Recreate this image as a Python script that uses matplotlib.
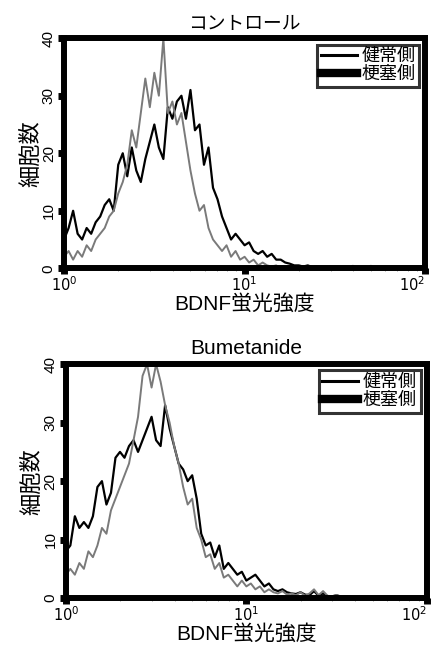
import numpy as np
import matplotlib.pyplot as plt
from matplotlib.lines import Line2D
from matplotlib.ticker import MultipleLocator, LogLocator, NullFormatter

plt.rcParams["font.family"] = ["Liberation Sans", "Noto Sans CJK JP", "DejaVu Sans"]

# flow cytometer channels: 40 bins per decade, starting at 10^0
bins_per_decade = 40

# control: healthy side (gray) and infarct side (black)
ctrl_healthy = [2, 3, 1.5, 3, 2, 4, 3, 5, 6, 7,
                9, 10, 13, 15, 18, 24, 21, 27, 33, 28,
                34, 30, 40, 27, 29, 25, 27, 22, 17, 13,
                10, 11, 7, 5, 4, 3, 4, 2, 3, 1.5,
                2, 1, 1.5, 0.5, 1, 0.5, 0.3, 0.5, 0, 0.2,
                0, 0, 0.2, 0, 0, 0, 0, 0, 0, 0]
ctrl_infarct = [5, 7, 10, 6, 5, 7, 6, 8, 9, 11,
                12, 10, 18, 20, 16, 21, 17, 15, 19, 22,
                25, 21, 19, 28, 26, 29, 30, 26, 31, 24,
                25, 18, 21, 14, 12, 9, 7, 5, 6, 5,
                4, 4.5, 3, 2.5, 3, 2, 2.5, 1.5, 1.5, 1,
                0.8, 0.5, 0.5, 0.3, 0.5, 0.2, 0.3, 0.2, 0, 0.3,
                0, 0.2, 0, 0, 0.4, 0, 0, 0, 0.4, 0,
                0]

# bumetanide: healthy side (gray) and infarct side (black)
bume_healthy = [4, 5, 4, 6, 5, 8, 7, 9, 12, 11,
                15, 17, 19, 21, 23, 27, 31, 38, 40, 36,
                40, 37, 33, 30, 26, 23, 19, 16, 17, 12,
                10, 7, 7.5, 5, 6, 3.5, 4, 3, 2, 3,
                2, 2.5, 1.5, 2, 1, 1.5, 1, 0.8, 1.2, 0.6,
                0.8, 0.5, 1, 0.4, 0.8, 1.5, 0.5, 1.2, 0.4, 0.3,
                0.5, 0.3, 0.2, 0.3, 0.2, 0, 0.2, 0, 0.2, 0]
bume_infarct = [8, 9, 14, 12, 13, 12, 14, 19, 20, 16,
                18, 24, 25, 24, 26, 27, 25, 27, 29, 31,
                27, 26, 33, 29, 26, 23, 22, 20, 21, 17,
                11, 9, 9.5, 7, 9, 5, 6, 5, 4, 4.5,
                3, 3.5, 4, 3, 2, 2.5, 1.5, 1.2, 1.5, 1,
                0.8, 0.7, 1, 0.6, 0.5, 1.2, 0.4, 0.8, 0.3, 0.3,
                0.5, 0.2, 0.3, 0.2, 0, 0.2, 0.2, 0, 0.2, 0]

x_ticks = [1, 10, 100]
x_tick_labels = ["$10^0$", "$10^1$", "$10^2$"]

panels = [
    ("コントロール", 13.5, ctrl_healthy, ctrl_infarct, [0.147, 0.586, 0.828, 0.355]),
    ("Bumetanide", 15, bume_healthy, bume_infarct, [0.151, 0.077, 0.828, 0.361]),
]

fig = plt.figure(figsize=(4.36, 6.48), dpi=100)

for title, title_size, healthy, infarct, rect in panels:
    ax = fig.add_axes(rect)
    x_h = 10 ** (np.arange(len(healthy)) / bins_per_decade)
    x_i = 10 ** (np.arange(len(infarct)) / bins_per_decade)
    ax.plot(x_i, infarct, color="black", lw=1.6)
    ax.plot(x_h, healthy, color="#7a7a7a", lw=1.4)

    ax.set_xscale("log")
    ax.set_xlim(1, 100)
    ax.set_ylim(0, 40)
    ax.yaxis.set_major_locator(MultipleLocator(10))
    ax.yaxis.set_minor_locator(MultipleLocator(2))
    ax.set_xticks(x_ticks)
    ax.set_xticklabels(x_tick_labels)
    ax.xaxis.set_minor_locator(LogLocator(base=10, subs=np.arange(2, 10)))
    ax.xaxis.set_minor_formatter(NullFormatter())

    for s in ax.spines.values():
        s.set_linewidth(4.3)
    ax.tick_params(which="major", length=4, width=5, labelsize=11, pad=2)
    ax.tick_params(axis="x", which="major", labelsize=10.5, pad=1)
    ax.tick_params(which="minor", length=2, width=0.6, color="#888888")
    for lab in ax.get_yticklabels():
        lab.set_rotation(90)
        lab.set_va("center")
    ax.get_xticklabels()[-1].set_ha("right")

    ax.set_title(title, fontsize=title_size, pad=7)
    ax.set_xlabel("BDNF蛍光強度", fontsize=15, labelpad=0)
    ax.set_ylabel("細胞数", fontsize=16, labelpad=0)

    handles = [Line2D([], [], color="black", lw=2.2),
               Line2D([], [], color="black", lw=6)]
    leg = ax.legend(handles, ["健常側", "梗塞側"], loc="upper right",
                    fontsize=13, frameon=True, fancybox=False,
                    handlelength=2.0, handletextpad=0.25, borderpad=0.2,
                    labelspacing=0.05, borderaxespad=0.35)
    leg.get_frame().set_edgecolor("black")
    leg.get_frame().set_linewidth(2.2)

fig.savefig("out.png", dpi=100)
